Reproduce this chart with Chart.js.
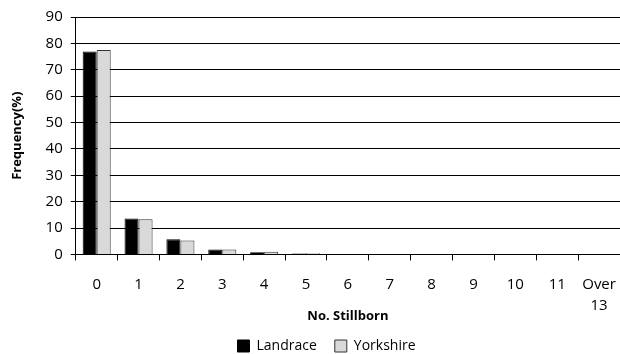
<!DOCTYPE html>
<html>
<head>
<meta charset="utf-8">
<script src="https://cdn.jsdelivr.net/npm/chart.js@4/dist/chart.umd.min.js"></script>
<style>
    html, body { margin: 0; padding: 0; background: #fff; }
    #wrap { width: 620px; height: 354px; }
</style>
</head>
<body>
<div id="wrap"><canvas id="stillbornChart" width="620" height="354"></canvas></div>
<script>
const categories = ['0', '1', '2', '3', '4', '5', '6', '7', '8', '9', '10', '11', ['Over', '13']];
const landrace = [76.9, 13.6, 5.7, 1.9, 0.8, 0.3, 0, 0, 0, 0, 0, 0, 0];
const yorkshire = [77.5, 13.3, 5.3, 1.9, 1.0, 0.4, 0, 0, 0, 0, 0, 0, 0];
const yTicks = [0, 90, 10];

(function () {
    Chart.defaults.font.family = "'Open Sans', 'DejaVu Sans', sans-serif";
    Chart.defaults.color = '#000';

    // nudge the legend a little right of centre, like the original
    const legendShift = {
        id: 'legendShift',
        afterLayout(chart) {
            if (!chart.legend) return;
            chart.legend.left += 12;
            chart.legend.right += 12;
        }
    };

    const canvas = document.getElementById('stillbornChart');

    new Chart(canvas, {
        type: 'bar',
        data: {
            labels: categories,
            datasets: [{
                label: 'Landrace',
                data: landrace,
                backgroundColor: '#000',
                borderColor: '#000',
                borderWidth: 1
            }, {
                label: 'Yorkshire',
                data: yorkshire,
                backgroundColor: '#d9d9d9',
                borderColor: '#333',
                borderWidth: 1
            }]
        },
        plugins: [legendShift],
        options: {
            responsive: false,
            animation: false,
            layout: { padding: { top: 10, right: 0, left: 9, bottom: -9 } },
            datasets: {
                bar: { categoryPercentage: 0.67, barPercentage: 1.0 }
            },
            plugins: {
                legend: {
                    position: 'bottom',
                    labels: {
                        boxWidth: 12,
                        boxHeight: 12,
                        padding: 18,
                        font: { size: 14 },
                        color: '#000'
                    }
                },
                tooltip: { enabled: false }
            },
            scales: {
                x: {
                    offset: true,
                    // plot runs right to the edge of the picture
                    afterFit(axis) {
                        axis.paddingRight = 0;
                    },
                    grid: {
                        offset: true,
                        drawOnChartArea: false,
                        drawTicks: true,
                        tickLength: 6,
                        color: '#000'
                    },
                    border: { color: '#000', width: 1 },
                    ticks: {
                        font: { size: 15, lineHeight: 1.4 },
                        padding: 14,
                        maxRotation: 0,
                        autoSkip: false
                    },
                    title: {
                        display: true,
                        text: 'No. Stillborn',
                        font: { size: 13, weight: 'bold' },
                        padding: { top: -22, bottom: -3 }
                    }
                },
                y: {
                    min: yTicks[0],
                    max: yTicks[1],
                    ticks: { stepSize: yTicks[2], font: { size: 15 }, padding: 8 },
                    grid: { color: '#000', tickLength: 5, drawTicks: true },
                    border: { color: '#000', width: 1 },
                    title: {
                        display: true,
                        text: 'Frequency(%)',
                        font: { size: 13, weight: 'bold' },
                        padding: { top: 0, bottom: 13 }
                    }
                }
            }
        }
    });
})();
</script>
</body>
</html>
